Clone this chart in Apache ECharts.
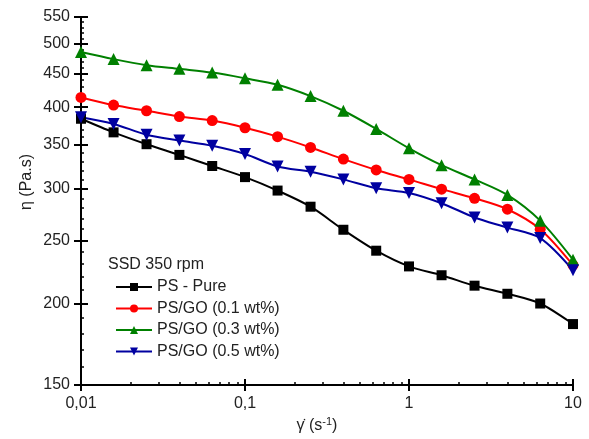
<!DOCTYPE html>
<html>
<head>
<meta charset="utf-8">
<script src="https://cdn.jsdelivr.net/npm/echarts@6/dist/echarts.min.js"></script>
<style>
html,body{margin:0;padding:0;background:#fff;}
#c{width:589px;height:439px;}
</style>
</head>
<body>
<div id="c"></div>
<script>
// ---- data ----
const shearRates = [0.01, 0.0158, 0.0251, 0.0398, 0.0631, 0.1, 0.158, 0.251, 0.398, 0.631, 1, 1.58, 2.51, 3.98, 6.31, 10];
const psPure = [384, 366, 351, 338, 325, 312.5, 298, 281.5, 259.5, 241, 228, 221, 213, 207, 200, 186];
const psGo01 = [414, 403, 395, 387, 381.5, 372, 360.5, 347, 333, 320.5, 310, 299.5, 290, 279, 260, 229];
const psGo03 = [486, 474, 464, 458, 452, 443, 433, 416, 395, 370.5, 346, 326, 310, 293.5, 268, 233.5];
const psGo05 = [386, 377, 363, 355.5, 349, 339, 324.5, 318.5, 310, 300.5, 295.5, 285, 271, 261.5, 252, 225];
const seriesNames = ['PS - Pure', 'PS/GO (0.1 wt%)', 'PS/GO (0.3 wt%)', 'PS/GO (0.5 wt%)'];
const xMajorTicks = [0.01, 0.1, 1, 10];
const xMinorTicks = [0.02,0.03,0.04,0.05,0.06,0.07,0.08,0.09,0.2,0.3,0.4,0.5,0.6,0.7,0.8,0.9,2,3,4,5,6,7,8,9];
const yMajorTicks = [150, 200, 250, 300, 350, 400, 450, 500, 550];
const yMinorTicks = [160,170,180,190,210,220,230,240,260,270,280,290,310,320,330,340,360,370,380,390,410,420,430,440,460,470,480,490,510,520,530,540];
const legendTitle = 'SSD 350 rpm';

const chart = echarts.init(document.getElementById('c'), null, {renderer: 'canvas'});
const FONT = 'Liberation Sans, Arial, sans-serif';
const FS = 16;
const grid = {left: 81, right: 16, top: 17, bottom: 54};

function pairs(vals){ return shearRates.map((x,i)=>[x, vals[i]]); }

const baseX = {type:'log', logBase:10, min:0.01, max:10, gridIndex:0, position:'bottom',
  splitLine:{show:false}, minorTick:{show:false}, minorSplitLine:{show:false}};
const baseY = {type:'log', logBase:10, min:150, max:550, gridIndex:0, position:'left',
  splitLine:{show:false}, minorTick:{show:false}, minorSplitLine:{show:false}};

const xAxes = [
  Object.assign({}, baseX, {
    axisLine:{show:true, lineStyle:{color:'#000', width:2}},
    axisTick:{show:true, inside:false, length:6, lineStyle:{color:'#000', width:2}, customValues:xMajorTicks},
    axisLabel:{show:true, customValues:xMajorTicks, margin:11, color:'#222', fontSize:FS, fontFamily:FONT,
      formatter:v=>String(v).replace('.', ',')}
  }),
  Object.assign({}, baseX, {
    axisLine:{show:false},
    axisTick:{show:true, inside:true, length:6, lineStyle:{color:'#000', width:2}, customValues:xMajorTicks},
    axisLabel:{show:false}
  }),
  Object.assign({}, baseX, {
    axisLine:{show:false},
    axisTick:{show:true, inside:true, length:3, lineStyle:{color:'#000', width:1.5}, customValues:xMinorTicks},
    axisLabel:{show:false}
  })
];
const yAxes = [
  Object.assign({}, baseY, {
    axisLine:{show:true, lineStyle:{color:'#000', width:2}},
    axisTick:{show:true, inside:false, length:7, lineStyle:{color:'#000', width:2}, customValues:yMajorTicks},
    axisLabel:{show:true, customValues:yMajorTicks, margin:11, color:'#222', fontSize:FS, fontFamily:FONT}
  }),
  Object.assign({}, baseY, {
    axisLine:{show:false},
    axisTick:{show:true, inside:true, length:7, lineStyle:{color:'#000', width:2}, customValues:yMajorTicks},
    axisLabel:{show:false}
  }),
  Object.assign({}, baseY, {
    axisLine:{show:false},
    axisTick:{show:true, inside:true, length:3, lineStyle:{color:'#000', width:1.5}, customValues:yMinorTicks},
    axisLabel:{show:false}
  })
];

function mk(name, vals, color, symbol, size, rot){
  return {
    name: name, type:'line', xAxisIndex:0, yAxisIndex:0, data: pairs(vals),
    smooth: 0.3, symbol: symbol, symbolSize: size, symbolRotate: rot || 0,
    showAllSymbol: true,
    lineStyle:{color:color, width:2}, itemStyle:{color:color, borderWidth:0},
    emphasis:{disabled:true}, animation:false, z: 3
  };
}

const option = {
  animation:false,
  backgroundColor:'#fff',
  grid: grid,
  xAxis: xAxes,
  yAxis: yAxes,
  legend: {
    orient:'vertical', left:110, top:274, itemWidth:36, itemHeight:10, itemGap:5.5,
    textStyle:{fontSize:FS, fontFamily:FONT, color:'#222'},
    data: seriesNames, selectedMode:false
  },
  graphic: [
    {type:'text', left:108, top:257, style:{text:legendTitle, fontSize:FS, fontFamily:FONT, fill:'#222'}},
    {type:'text', x:27, y:182, rotation:Math.PI/2,
      style:{text:'η (Pa.s)', fontSize:FS, fontFamily:FONT, fill:'#222', align:'center', verticalAlign:'middle'}},
    {type:'text', x:317, y:426,
      style:{text:'{g|γ̇} (s{s|-1})', fontSize:FS, fontFamily:FONT, fill:'#222', align:'center', verticalAlign:'middle',
        rich:{g:{fontSize:FS, fontFamily:FONT, fill:'#222'}, s:{fontSize:11, fontFamily:FONT, fill:'#222', verticalAlign:'top', padding:[0,0,8,0]}}}}
  ],
  series: [
    mk(seriesNames[0], psPure, '#000000', 'rect', 10),
    mk(seriesNames[1], psGo01, '#ff0000', 'circle', 11),
    mk(seriesNames[2], psGo03, '#008000', 'triangle', 12),
    mk(seriesNames[3], psGo05, '#0000a0', 'triangle', 12, 180)
  ]
};
chart.setOption(option);
</script>
</body>
</html>
